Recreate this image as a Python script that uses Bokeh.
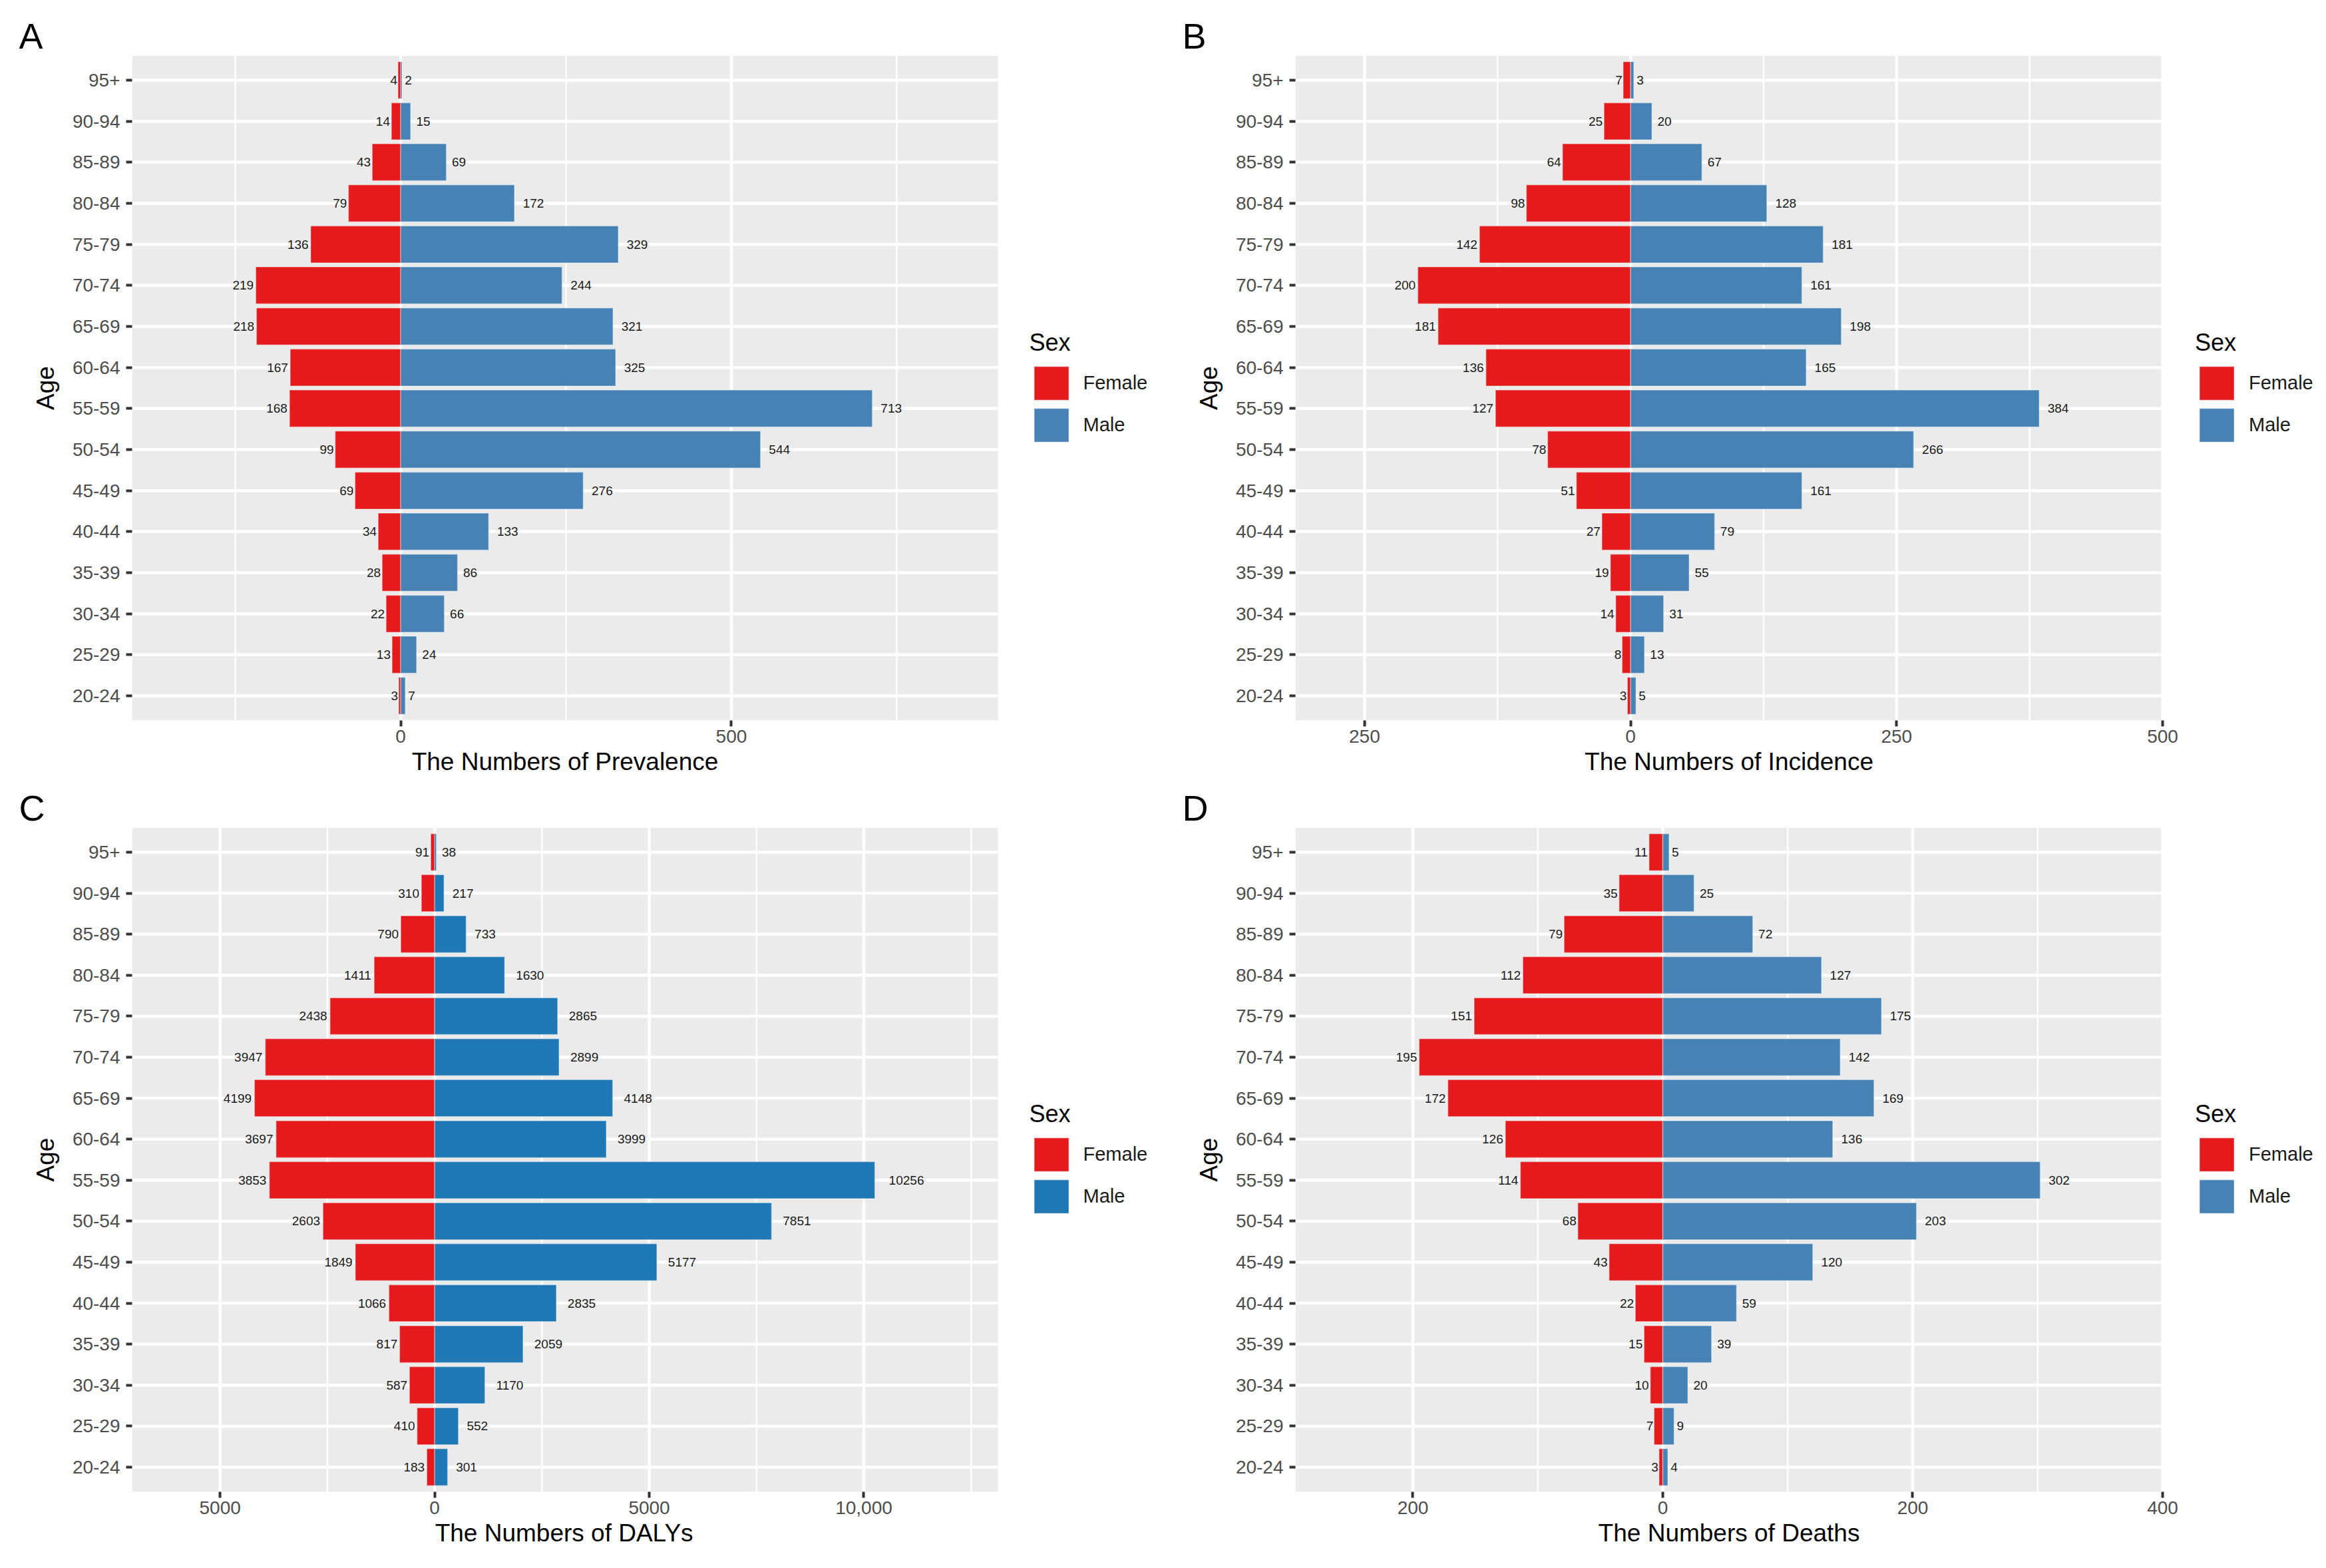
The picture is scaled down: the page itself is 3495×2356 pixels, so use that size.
from bokeh.plotting import figure
from bokeh.models import (Range1d, FixedTicker, Legend, LegendItem, ColumnDataSource,
                          BoxAnnotation, Title)
from bokeh.layouts import column, row
from bokeh.embed import file_html
from bokeh.resources import INLINE
from bokeh.core.properties import value

# ---------------- data (bottom -> top) ----------------
ages = ["20-24", "25-29", "30-34", "35-39", "40-44", "45-49", "50-54", "55-59",
        "60-64", "65-69", "70-74", "75-79", "80-84", "85-89", "90-94", "95+"]

prev_female = [3, 13, 22, 28, 34, 69, 99, 168, 167, 218, 219, 136, 79, 43, 14, 4]
prev_male = [7, 24, 66, 86, 133, 276, 544, 713, 325, 321, 244, 329, 172, 69, 15, 2]

inc_female = [3, 8, 14, 19, 27, 51, 78, 127, 136, 181, 200, 142, 98, 64, 25, 7]
inc_male = [5, 13, 31, 55, 79, 161, 266, 384, 165, 198, 161, 181, 128, 67, 20, 3]

daly_female = [183, 410, 587, 817, 1066, 1849, 2603, 3853, 3697, 4199, 3947, 2438, 1411, 790, 310, 91]
daly_male = [301, 552, 1170, 2059, 2835, 5177, 7851, 10256, 3999, 4148, 2899, 2865, 1630, 733, 217, 38]

death_female = [3, 7, 10, 15, 22, 43, 68, 114, 126, 172, 195, 151, 112, 79, 35, 11]
death_male = [4, 9, 20, 39, 59, 120, 203, 302, 136, 169, 142, 175, 127, 72, 25, 5]

prev_ticks = [0, 500]
prev_tick_labels = ["0", "500"]
prev_minor = [-250, 250, 750]

inc_ticks = [-250, 0, 250, 500]
inc_tick_labels = ["250", "0", "250", "500"]
inc_minor = [-125, 125, 375]

daly_ticks = [-5000, 0, 5000, 10000]
daly_tick_labels = ["5000", "0", "5000", "10,000"]
daly_minor = [-2500, 2500, 7500, 12500]

death_ticks = [-200, 0, 200, 400]
death_tick_labels = ["200", "0", "200", "400"]
death_minor = [-100, 100, 300]

sexes = ["Female", "Male"]
FEMALE_COLOR = "#E41A1C"
MALE_COLOR = "#4682B4"
MALE_COLOR_C = "#1F78B4"

FONT = "Liberation Sans"
PANEL_BG = "#EBEBEB"

# Arial / Liberation Sans advance widths (1/1000 em) used to centre the axis titles
_W = {" ": 278, "T": 611, "h": 556, "e": 556, "N": 722, "u": 556, "m": 833, "b": 556,
      "r": 333, "s": 500, "o": 556, "f": 278, "P": 667, "v": 500, "a": 556, "l": 222,
      "n": 556, "c": 500, "I": 278, "i": 222, "d": 556, "D": 722, "A": 667, "L": 556,
      "Y": 667, "t": 278, "S": 667}


def text_width(s, px):
    return sum(_W.get(ch, 556) for ch in s) / 1000.0 * px


def make_panel(letter, female, male, male_color, xr, ticks, tick_labels, minor,
               x_title, plot_w, frame_h, top_b, bottom_b, left_b, fig_w, leg_dx):
    H = top_b + frame_h + bottom_b
    n = len(ages)
    y0, y1 = 0.4, n + 0.6
    frame_w = fig_w - left_b          # frame reaches the right edge (room for legend)
    ppx = plot_w / (xr[1] - xr[0])
    x_end = xr[0] + frame_w / ppx

    p = figure(width=fig_w, height=H, x_range=Range1d(xr[0], x_end), y_range=Range1d(y0, y1),
               output_backend="svg", toolbar_location=None, title=letter,
               min_border_left=left_b, min_border_right=0,
               min_border_top=top_b, min_border_bottom=bottom_b)
    p.background_fill_color = "white"
    p.border_fill_color = "white"
    p.outline_line_color = None

    # panel letter as title, pushed to the left edge
    p.title.align = "left"
    p.title.offset = -170
    p.title.standoff = 0
    p.title.text_font = FONT
    p.title.text_font_size = "54px"
    p.title.text_font_style = "normal"
    p.title.text_color = "black"

    # grey plotting panel
    p.add_layout(BoxAnnotation(left=xr[0], right=xr[1], bottom=y0, top=y1,
                               fill_color=PANEL_BG, fill_alpha=1.0, line_color=None,
                               level="underlay"))
    p.xgrid.visible = False
    p.ygrid.visible = False

    # grid lines restricted to the panel
    maj = [t for t in ticks if xr[0] < t <= xr[1]]
    mnr = [t for t in minor if xr[0] < t <= xr[1]]
    ys = list(range(1, n + 1))
    p.segment(x0=mnr, x1=mnr, y0=[y0] * len(mnr), y1=[y1] * len(mnr),
              line_color="white", line_width=2.5)
    p.segment(x0=maj, x1=maj, y0=[y0] * len(maj), y1=[y1] * len(maj),
              line_color="white", line_width=4.5)
    p.segment(x0=[xr[0]] * n, x1=[xr[1]] * n, y0=ys, y1=ys,
              line_color="white", line_width=4.5)

    # ticks / axes
    xt = FixedTicker(ticks=maj, minor_ticks=[])
    p.xaxis.ticker = xt
    p.xaxis.bounds = (xr[0], xr[1])
    yt = FixedTicker(ticks=ys, minor_ticks=[])
    p.yaxis.ticker = yt
    p.xaxis.major_label_overrides = {t: l for t, l in zip(ticks, tick_labels)}
    p.yaxis.major_label_overrides = {i + 1: a for i, a in enumerate(ages)}

    for ax in (p.xaxis[0], p.yaxis[0]):
        ax.axis_line_color = None
        ax.major_tick_line_color = "#333333"
        ax.major_tick_line_width = 4
        ax.major_tick_out = 9
        ax.major_tick_in = 0
        ax.minor_tick_line_color = None
        ax.major_label_text_font = FONT
        ax.major_label_text_font_size = "28px"
        ax.major_label_text_color = "#4D4D4D"
        ax.axis_label_text_font = FONT
        ax.axis_label_text_font_size = "37px"
        ax.axis_label_text_font_style = "normal"
        ax.axis_label_text_color = "black"
    p.yaxis.major_label_standoff = 9
    p.xaxis.major_label_standoff = 5
    p.yaxis.axis_label = "Age"
    p.yaxis.axis_label_standoff = 17

    # x-axis title centred on the grey panel (below the axis)
    xt_title = Title(text=x_title, align="left",
                     offset=plot_w / 2 - text_width(x_title, 37) / 2,
                     standoff=7, text_font=FONT, text_font_size="37px",
                     text_font_style="normal", text_color="black")
    p.add_layout(xt_title, "below")

    fs = 19
    cw = 0.556 * fs
    f_lab = [str(v) for v in female]
    m_lab = [str(v) for v in male]
    src_f = ColumnDataSource(dict(
        y=ys, left=[-v for v in female], right=[0] * n, lab=f_lab,
        xoff=[-0.1 * len(s) * cw for s in f_lab]))
    src_m = ColumnDataSource(dict(
        y=ys, left=[0] * n, right=list(male), lab=m_lab,
        xoff=[0.4 * len(s) * cw for s in m_lab]))

    rf = p.hbar(y="y", left="left", right="right", height=0.9, source=src_f,
                fill_color=FEMALE_COLOR, line_color="white", line_alpha=0.35, line_width=1.5)
    rm = p.hbar(y="y", left="left", right="right", height=0.9, source=src_m,
                fill_color=male_color, line_color="white", line_alpha=0.35, line_width=1.5)

    p.text(x="left", y="y", text="lab", x_offset="xoff", source=src_f,
           text_align="right", text_baseline="middle", text_font=value(FONT),
           text_font_size=f"{fs}px", text_color="#1A1A1A")
    p.text(x="right", y="y", text="lab", x_offset="xoff", source=src_m,
           text_align="left", text_baseline="middle", text_font=value(FONT),
           text_font_size=f"{fs}px", text_color="#1A1A1A")

    # legend inside the (extended) frame, to the right of the panel
    legend = Legend(items=[LegendItem(label=sexes[0], renderers=[rf]),
                           LegendItem(label=sexes[1], renderers=[rm])],
                    location=(plot_w + leg_dx, 412),
                    title="Sex", title_text_font=FONT, title_text_font_size="36px",
                    title_text_font_style="normal", title_text_color="black",
                    title_standoff=8,
                    label_text_font=FONT, label_text_font_size="29px",
                    label_text_color="#1A1A1A",
                    glyph_width=65, glyph_height=63, label_standoff=16,
                    spacing=-9, padding=0, margin=0, label_height=20,
                    border_line_color=None, background_fill_alpha=0)
    p.add_layout(legend)
    return p


pA = make_panel("A", prev_female, prev_male, MALE_COLOR, (-406, 903),
                prev_ticks, prev_tick_labels, prev_minor, "The Numbers of Prevalence",
                1301, 999, 83, 99, 198, 1757, 47.5)
pB = make_panel("B", inc_female, inc_male, MALE_COLOR, (-315, 500),
                inc_ticks, inc_tick_labels, inc_minor, "The Numbers of Incidence",
                1303, 999, 83, 99, 189, 1734, 49)
pC = make_panel("C", daly_female, daly_male, MALE_COLOR_C, (-7050, 13125),
                daly_ticks, daly_tick_labels, daly_minor, "The Numbers of DALYs",
                1301, 1000, 60, 107, 198, 1757, 47.5)
pD = make_panel("D", death_female, death_male, MALE_COLOR, (-294, 400),
                death_ticks, death_tick_labels, death_minor, "The Numbers of Deaths",
                1303, 1000, 60, 107, 189, 1734, 49)

layout = column(row(pA, pB), row(pC, pD))

with open("out.html", "w") as f:
    f.write(file_html(layout, INLINE))
